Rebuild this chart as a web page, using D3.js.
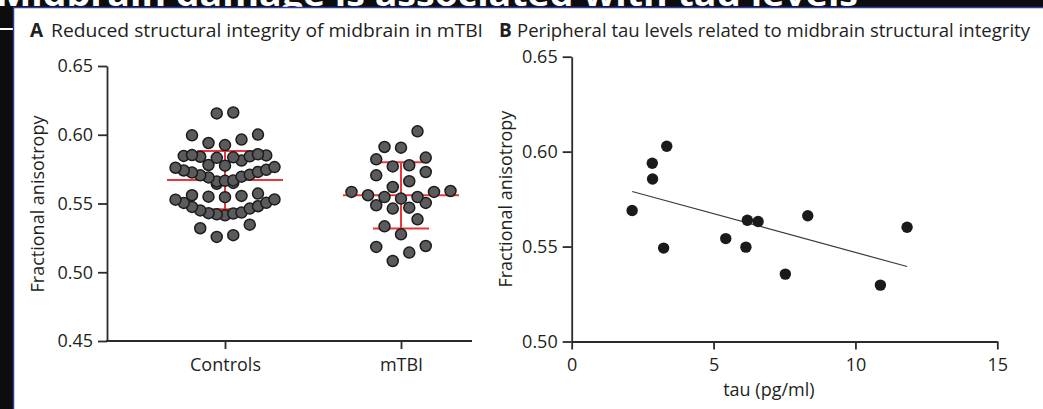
<!DOCTYPE html>
<html><head><meta charset="utf-8">
<script src="https://cdn.jsdelivr.net/npm/d3@7"></script>
<style>
body{margin:0;background:#000}
svg{display:block}
text{font-family:"Open Sans",sans-serif;fill:#231f20}
</style>
</head><body>
<svg id="c" width="1043" height="409"></svg>
<script>
// ---------- data ----------
const groups = ["Controls", "mTBI"];
// fractional anisotropy, grouped in the rows of the dot plot
const controlsRows = [
  [0.5257, 0.5270, 0.5320, 0.5346],
  [0.5414, 0.5430, 0.5434, 0.5475, 0.5480, 0.5528, 0.5530],
  [0.5421, 0.5427, 0.5450, 0.5463, 0.5504, 0.5505],
  [0.5546, 0.5550, 0.5555, 0.5560, 0.5572],
  [0.5643, 0.5650],
  [0.5660, 0.5668, 0.5705, 0.5710, 0.5740, 0.5745],
  [0.5665, 0.5690, 0.5695, 0.5725, 0.5730, 0.5760, 0.5765],
  [0.5775, 0.5780, 0.5812, 0.5852, 0.5858],
  [0.5832, 0.5836, 0.5840, 0.5843, 0.5846, 0.5850],
  [0.5925, 0.5940, 0.5965, 0.5996, 0.6001],
  [0.6155, 0.6162]
];
const mtbiRows = [
  [0.5082, 0.5143, 0.5184, 0.5191],
  [0.5276, 0.5334, 0.5385],
  [0.5463, 0.5470, 0.5487, 0.5504],
  [0.5536, 0.5547, 0.5547, 0.5560, 0.5584, 0.5584, 0.5591],
  [0.5620, 0.5662, 0.5705, 0.5729],
  [0.5770, 0.5778, 0.5821, 0.5834],
  [0.5906, 0.5911, 0.6025]
];
const yTicksA = [0.45, 0.50, 0.55, 0.60, 0.65];

const tau = [2.13, 2.84, 2.85, 3.35, 3.24, 5.43, 6.19, 6.57, 6.14, 7.53, 8.32, 10.88, 11.82];
const fa  = [0.5690, 0.5939, 0.5856, 0.6028, 0.5492, 0.5542, 0.5639, 0.5632, 0.5497, 0.5355, 0.5662, 0.5297, 0.5602];
const fitTau = [2.13, 11.82];
const fitFA  = [0.5790, 0.5395];
const xTicksB = [0, 5, 10, 15];
const yTicksB = [0.50, 0.55, 0.60, 0.65];

const titleA = "Reduced structural integrity of midbrain in mTBI";
const titleB = "Peripheral tau levels related to midbrain structural integrity";
const yTitle = "Fractional anisotropy";
const xTitleB = "tau (pg/ml)";
const headline = "Midbrain damage is associated with tau levels";

// ---------- frame ----------
const svg = d3.select("#c");
svg.append("rect").attr("width",1043).attr("height",409).attr("fill","#0d0d0d");
svg.append("text").text(headline)
  .attr("x",-4).attr("y",6).attr("textLength",862).attr("lengthAdjust","spacingAndGlyphs")
  .style("font-size","34px").style("font-weight","bold").style("fill","#fff");
svg.append("rect").attr("x",0).attr("y",28).attr("width",14).attr("height",2).attr("fill","#fff");
svg.append("rect").attr("x",13.5).attr("y",7.5).attr("width",1032).attr("height",404)
  .attr("fill","#fff").attr("stroke","#2d3f96").attr("stroke-width",1.5);

const axisColor = "#2b2b2b";
function styleAxis(g){
  g.selectAll("path,line").attr("stroke",axisColor).attr("stroke-width",1.8);
  g.selectAll("text").style("font-size","18px").style("fill","#231f20");
}

// ---------- panel A ----------
const yA = d3.scaleLinear().domain([0.45,0.65]).range([341,66]);
const xA = d3.scalePoint().domain(groups).range([225,401]);
const gA = svg.append("g");

gA.append("text").attr("x",30).attr("y",37).text("A")
  .style("font-size","19px").style("font-weight","bold");
gA.append("text").attr("x",51).attr("y",37).text(titleA)
  .attr("textLength",432).attr("lengthAdjust","spacingAndGlyphs").style("font-size","18px");

const yAxA = gA.append("g").attr("transform","translate(107,0)")
  .call(d3.axisLeft(yA).tickValues(yTicksA).tickFormat(d3.format(".2f")).tickSize(9).tickSizeOuter(0).tickPadding(5));
styleAxis(yAxA);
const xAxA = gA.append("g").attr("transform","translate(0,341)")
  .call(d3.axisBottom(xA).tickSize(8).tickSizeOuter(0).tickPadding(9));
xAxA.select(".domain").remove();
styleAxis(xAxA);
gA.append("line").attr("x1",106.1).attr("x2",472).attr("y1",341).attr("y2",341)
  .attr("stroke",axisColor).attr("stroke-width",1.8);

gA.append("text").attr("transform","rotate(-90)").attr("x",-204).attr("y",44)
  .attr("text-anchor","middle").text(yTitle).style("font-size","18px");

function swarm(rows, spacing){
  const out = [];
  rows.forEach(r => {
    const s = [...r].sort((a,b)=>a-b), n = s.length;
    s.forEach((v,i) => {
      let k;
      if (n % 2) k = i === 0 ? 0 : (i % 2 ? -1 : 1) * Math.ceil(i/2);
      else k = (i % 2 ? 1 : -1) * (Math.floor(i/2) + 0.5);
      out.push({v, dx: k*spacing});
    });
  });
  return out.sort((a,b)=>a.v-b.v);
}

[[groups[0], controlsRows],[groups[1], mtbiRows]].forEach(([name, rows]) => {
  const vals = rows.flat();
  const m = d3.mean(vals), sd = d3.deviation(vals);
  const cx = xA(name);
  const red = gA.append("g").attr("stroke","#e8383d").attr("stroke-width",2);
  red.append("line").attr("x1",cx-58).attr("x2",cx+58).attr("y1",yA(m)).attr("y2",yA(m));
  red.append("line").attr("x1",cx).attr("x2",cx).attr("y1",yA(m+sd)).attr("y2",yA(m-sd));
  [m+sd, m-sd].forEach(v => red.append("line").attr("x1",cx-28).attr("x2",cx+28).attr("y1",yA(v)).attr("y2",yA(v)));
  gA.append("g").selectAll("circle").data(swarm(rows,16.5)).join("circle")
    .attr("cx", d => cx + d.dx).attr("cy", d => yA(d.v)).attr("r",5.5)
    .attr("fill","#5b5b5d").attr("stroke","#1c1c1c").attr("stroke-width",1.5);
});

// ---------- panel B ----------
const xB = d3.scaleLinear().domain([0,15]).range([571.7,997.3]);
const yB = d3.scaleLinear().domain([0.50,0.65]).range([341.5,56.7]);
const gB = svg.append("g");

gB.append("text").attr("x",499).attr("y",37).text("B")
  .style("font-size","19px").style("font-weight","bold");
gB.append("text").attr("x",517).attr("y",37).text(titleB)
  .attr("textLength",513).attr("lengthAdjust","spacingAndGlyphs").style("font-size","18px");

const yAxB = gB.append("g").attr("transform",`translate(${xB(0)},0)`)
  .call(d3.axisLeft(yB).tickValues(yTicksB).tickFormat(d3.format(".2f")).tickSize(9).tickSizeOuter(0).tickPadding(5));
styleAxis(yAxB);
const xAxB = gB.append("g").attr("transform",`translate(0,${yB(0.5)})`)
  .call(d3.axisBottom(xB).tickValues(xTicksB).tickFormat(d3.format("d")).tickSize(8).tickSizeOuter(0).tickPadding(9));
styleAxis(xAxB);

gB.append("text").attr("transform","rotate(-90)").attr("x",-(yB(0.5)+yB(0.65))/2).attr("y",512)
  .attr("text-anchor","middle").text(yTitle).style("font-size","18px");
gB.append("text").attr("x",xB(6.95)).attr("y",396).attr("text-anchor","middle")
  .text(xTitleB).style("font-size","18px");

gB.append("line").attr("x1",xB(fitTau[0])).attr("x2",xB(fitTau[1]))
  .attr("y1",yB(fitFA[0])).attr("y2",yB(fitFA[1])).attr("stroke","#3a3a3a").attr("stroke-width",1.2);
gB.append("g").selectAll("circle").data(d3.zip(tau, fa)).join("circle")
  .attr("cx", d => xB(d[0])).attr("cy", d => yB(d[1])).attr("r",5.7).attr("fill","#1a1a1a");
</script>
</body></html>
